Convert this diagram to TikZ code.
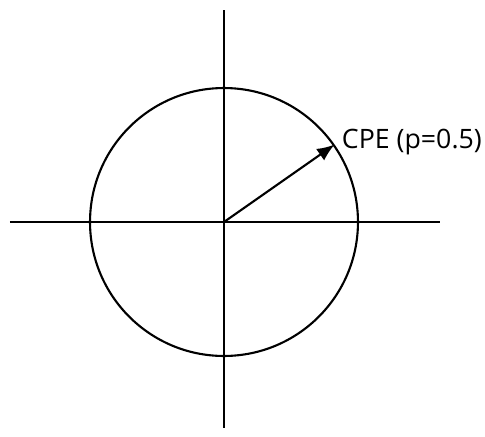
\documentclass[tikz,border=0pt]{standalone}
\usepackage{fontspec}
\setmainfont{Open Sans}
\usetikzlibrary{arrows.meta}
\tikzset{
  axis/.style={line width=1.2pt, black},
  ring/.style={circle, draw, line width=1.2pt, inner sep=0pt, minimum size=5.36cm},
  vec/.style={-{Latex[length=10pt,width=8pt]}, line width=1.2pt},
  lbl/.style={font=\fontsize{15.2}{17}\selectfont, inner sep=0pt, anchor=base west},
}
\begin{document}
\begin{tikzpicture}[x=0.02cm, y=-0.02cm]
\useasboundingbox (0,0) rectangle (485,437);

% axes
\coordinate (O) at (224,222);
\coordinate (xl) at (10,222);
\coordinate (xr) at (440,222);
\coordinate (yt) at (224,10);
\coordinate (yb) at (224,428);
\draw[axis] (xl) -- (xr);
\draw[axis] (yt) -- (yb);

\node[ring] (circ) at (O) {};
\draw[vec] (O) -- (circ.35);

\node[lbl, xshift=4pt, yshift=-2pt] (cpe) at (circ.35) {CPE (p=0.5)};

\end{tikzpicture}
\end{document}
